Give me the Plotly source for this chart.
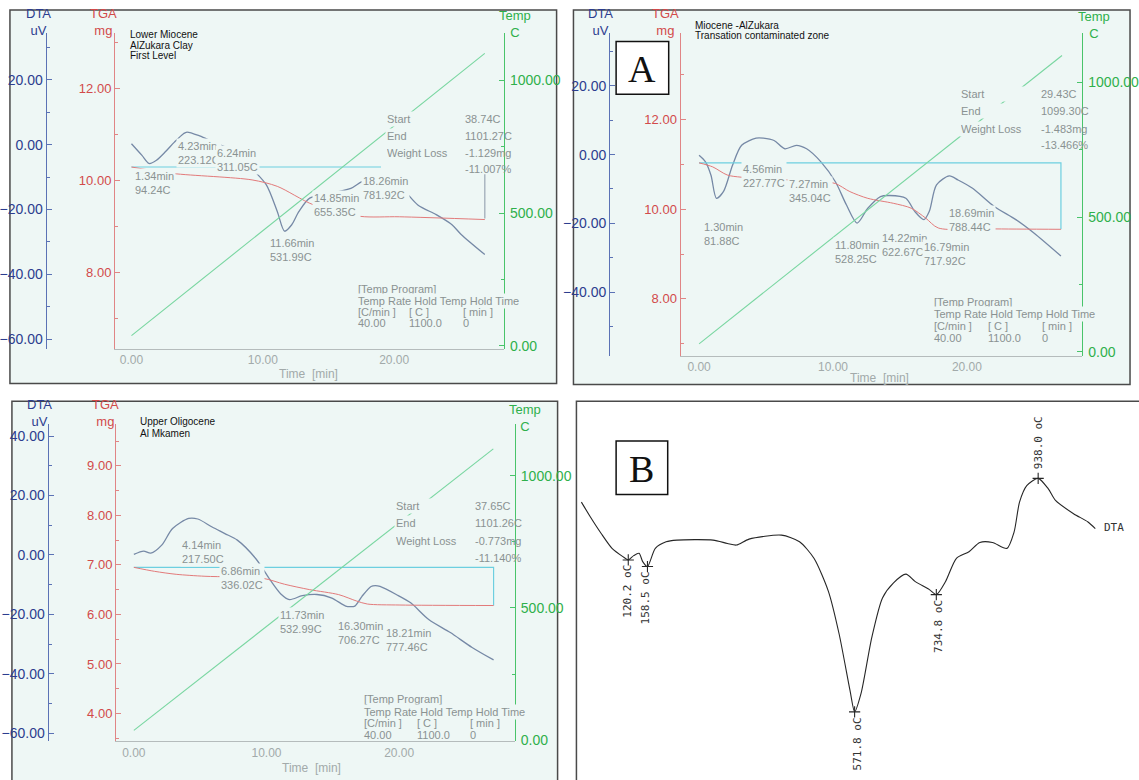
import plotly.graph_objects as go

W, H = 1139, 780

# ---------------- DATA ----------------
# Panel 1 - Lower Miocene / AlZukara Clay / First Level
p1_dta_time = [0.0, 0.8, 1.34, 1.9, 2.58, 3.27, 3.96, 4.23, 5.19, 6.24, 8.1, 9.31, 10.27, 11.1, 11.66,
               12.2, 12.75, 13.57, 14.85, 16.7, 17.55, 18.26, 19.34, 20.44, 21.8, 23.2, 24.4, 25.1, 26.9]
p1_dta_uv = [0.3, -3.3, -5.8, -4.8, -2.2, 0.8, 3.4, 3.9, 2.7, 0.8, -2.5, -7.9, -12.4, -20.6, -26.7,
             -24.7, -20.6, -16.5, -15.3, -13.5, -11.4, -10.9, -11.2, -12.9, -18.6, -21.6, -24.7, -27.7, -33.9]
p1_tga_time = [0.0, 3.13, 9.18, 11.1, 13.85, 17.4, 20.4, 26.9]
p1_tga_mg = [10.29, 10.15, 10.01, 9.87, 9.47, 9.22, 9.21, 9.15]
p1_temp_time = [0.0, 26.9]
p1_temp_c = [38.74, 1101.27]
p1_base_time = [0.0, 19.0]
p1_base_mg = [10.29, 10.29]
p1_drop_time = [26.9, 26.9]
p1_drop_mg = [10.13, 9.17]
p1_peak_text = ["1.34min<br>94.24C", "4.23min<br>223.12C", "6.24min<br>311.05C",
                "11.66min<br>531.99C", "14.85min<br>655.35C", "18.26min<br>781.92C"]
p1_stats_values = ["38.74C", "1101.27C", "-1.129mg", "-11.007%"]
p1_title_lines = ["Lower Miocene", "AlZukara Clay", "First Level"]
p1_dta_ticks = [-60, -40, -20, 0, 20]
p1_tga_ticks = [8, 10, 12]

# Panel 2 - Miocene -AlZukara / Transation contaminated zone
p2_dta_time = [0.0, 0.48, 0.89, 1.30, 1.83, 2.5, 3.18, 4.26, 4.8, 5.6, 6.41, 7.27, 8.03, 9.1, 10.18, 11.0,
               11.80, 12.6, 13.55, 14.22, 15.44, 16.1, 16.79, 17.19, 17.73, 18.69, 19.34, 20.42, 22.04,
               23.65, 25.0, 27.02]
p2_dta_uv = [-0.2, -2.1, -6.0, -12.7, -10.7, -3.1, 2.7, 4.8, 4.8, 4.1, 1.7, 2.7, 1.7, -2.1, -7.9, -14.6,
             -19.9, -15.6, -12.2, -11.9, -12.7, -16.5, -18.9, -16.5, -8.8, -6.2, -7.4, -9.8, -15.1,
             -18.9, -22.8, -29.5]
p2_tga_time = [0.0, 1.02, 2.1, 3.18, 9.1, 10.18, 11.26, 12.6, 14.5, 15.84, 16.92, 17.86, 21.77, 27.02]
p2_tga_mg = [11.03, 10.94, 10.76, 10.71, 10.61, 10.57, 10.39, 10.24, 10.13, 10.02, 9.80, 9.58, 9.56, 9.55]
p2_temp_time = [0.0, 27.1]
p2_temp_c = [29.43, 1099.30]
p2_base_time = [0.0, 27.02, 27.02]
p2_base_mg = [11.03, 11.03, 9.55]
p2_peak_text = ["1.30min<br>81.88C", "4.56min<br>227.77C", "7.27min<br>345.04C", "11.80min<br>528.25C",
                "14.22min<br>622.67C", "16.79min<br>717.92C", "18.69min<br>788.44C"]
p2_stats_values = ["29.43C", "1099.30C", "-1.483mg", "-13.466%"]
p2_title_lines = ["Miocene -AlZukara", "Transation contaminated zone"]
p2_dta_ticks = [-40, -20, 0, 20]
p2_tga_ticks = [8, 10, 12]

# Panel 3 - Upper Oligocene / Al Mkamen
p3_dta_time = [0.0, 0.74, 1.28, 2.1, 2.92, 4.14, 4.82, 5.9, 6.86, 7.8, 9.17, 10.26, 11.08, 11.73, 12.7,
               13.8, 14.88, 15.97, 16.30, 16.66, 17.2, 17.88, 18.21, 18.56, 19.78, 20.87, 22.23, 23.86,
               25.5, 27.12]
p3_dta_uv = [0.2, 1.3, 0.6, 3.3, 8.9, 12.3, 12.1, 9.4, 7.2, 5.0, -1.1, -8.3, -13.1, -15.0, -13.7,
             -13.3, -14.4, -17.2, -17.4, -17.2, -13.9, -10.6, -10.3, -10.6, -13.3, -16.1, -21.7, -26.1,
             -31.1, -35.3]
p3_tga_time = [0.0, 1.56, 3.19, 5.36, 9.71, 11.35, 13.26, 15.44, 16.8, 17.6, 20.06, 27.12]
p3_tga_mg = [6.95, 6.87, 6.81, 6.77, 6.73, 6.61, 6.50, 6.40, 6.27, 6.21, 6.19, 6.18]
p3_temp_time = [0.0, 27.1]
p3_temp_c = [37.65, 1101.26]
p3_base_time = [0.0, 27.12, 27.12]
p3_base_mg = [6.95, 6.95, 6.18]
p3_peak_text = ["4.14min<br>217.50C", "6.86min<br>336.02C", "11.73min<br>532.99C",
                "16.30min<br>706.27C", "18.21min<br>777.46C"]
p3_stats_values = ["37.65C", "1101.26C", "-0.773mg", "-11.140%"]
p3_title_lines = ["Upper Oligocene", "Al Mkamen"]
p3_dta_ticks = [-60, -40, -20, 0, 20, 40]
p3_tga_ticks = [4, 5, 6, 7, 8, 9]

# Shared texts / ticks
time_ticks = [0, 10, 20]
temp_ticks = [0, 500, 1000]
stats_labels = ["Start", "End", "Weight Loss"]
prog_rows = ["[Temp Program]", "Temp Rate Hold Temp Hold Time"]
prog_units = ["[C/min ]", "[ C ]", "[ min ]"]
prog_values = ["40.00", "1100.0", "0"]

# Panel B - DTA trace vs temperature (oC)
b_temp = [26.7, 44.7, 66.2, 87.8, 109.4, 120.2, 131, 141.8, 149, 158.5, 174.2, 195.7, 217.3, 289.3, 318,
          336, 361.2, 426, 461.9, 490.7, 519.5, 541, 562.6, 571.8, 584.5, 606, 627.4, 649, 674.2, 692.2,
          721, 734.8, 753.3, 774.9, 800, 821.6, 846.8, 875.6, 890, 900.8, 915.2, 938.0, 958.3, 972.6,
          1008.6, 1037.4, 1052]
b_dta = [25, 20.5, 15.5, 11, 8.5, 7.5, 8.8, 9.5, 7.0, 5.5, 11, 13, 13.5, 13.5, 12.5,
         12, 13.8, 15, 13, 8, -2, -15, -32, -38.5, -33, -16, -4, 0.5, 3.2, 1,
         -1.5, -3, 1, 8, 10, 12.8, 12.8, 11, 16, 25, 30, 32.2, 29, 25.5,
         21.5, 19, 17]
b_peak_temp = [120.2, 158.5, 571.8, 734.8, 938.0]
b_peak_dta = [7.5, 5.5, -38.5, -3.0, 32.2]
b_peak_text = ["120.2 oC", "158.5 oC", "571.8 oC", "734.8 oC", "938.0 oC"]

# ---------------- STYLE ----------------
FONT = "Arial, Liberation Sans, sans-serif"
NARROW = "Liberation Sans Narrow, Arial Narrow, Liberation Sans, sans-serif"
SERIF = "Liberation Serif, Times New Roman, serif"
MONO = "DejaVu Sans Mono, Liberation Mono, monospace"
PANEL_BG = "#eef7f5"
BORDER = "#4a4a4a"
DTA_LINE, DTA_AX, DTA_TXT = "#7689a6", "#5b72b5", "#2c3d8f"
TGA_LINE, TGA_AX, TGA_TXT = "#e27a7a", "#e08585", "#d24a4a"
TMP_LINE, TMP_AX, TMP_TXT = "#78d6a0", "#49c46a", "#2fb04b"
CYAN = "#6dcfe0"
GRAY = "#8a9292"
XAX = "#b5bcbc"

def px(x):
    return x / W

def py(y):
    return 1 - y / H

annotations = []
shapes = []
layout_axes = {}
fig = go.Figure()

def note(text, x, y, size=11, color=GRAY, xanchor="left", yanchor="middle", bg=None,
         family=FONT, angle=0, width=None, align="left"):
    a = dict(text=text, x=px(x), y=py(y), xref="paper", yref="paper", showarrow=False,
             xanchor=xanchor, yanchor=yanchor, align=align, textangle=angle,
             font=dict(family=family, size=size, color=color), borderpad=1)
    if bg:
        a["bgcolor"] = bg
    if width:
        a["width"] = width
    annotations.append(a)

def vrange(ref, ppu, top, bot):
    v0, p0 = ref
    return [v0 + (p0 - bot) / ppu, v0 + (p0 - top) / ppu]

def yname(n):
    return "yaxis" if n == 1 else f"yaxis{n}"

def yref(n):
    return "y" if n == 1 else f"y{n}"

panels = [
    dict(k=1, box=(7, 10, 558, 387), xdom=(112, 505), ydom=(33, 352), t0=129.5, ppm=13.24,
         dta=((0, 146), 3.27), tga=((10, 182), 46.5), tmp=((0, 349), 0.268), pos=(43, 112, 505),
         dta_t=p1_dta_ticks, tga_t=p1_tga_ticks, tga_minor=1,
         dta_x=p1_dta_time, dta_y=p1_dta_uv, tga_x=p1_tga_time, tga_y=p1_tga_mg,
         tmp_x=p1_temp_time, tmp_y=p1_temp_c, base=[(p1_base_time, p1_base_mg, CYAN),
                                                     (p1_drop_time, p1_drop_mg, "#9aa6b4")],
         peaks=p1_peak_text,
         peak_pos=[(131, 184.5), (174, 154), (214, 161), (267, 252.5), (311, 207), (361, 190)],
         stats=p1_stats_values, stats_x=(385.5, 463.6), stats_y=(120, 137, 154, 171),
         prog_x=(356, 407, 462), prog_y=(292, 304, 315, 326),
         title=p1_title_lines, title_pos=(126, 35, 10.5),
         ax_titles=[("DTA<br>uV", 36, 22, DTA_TXT), ("TGA<br>mg", 101, 22, TGA_TXT),
                    ("Temp<br>C", 516, 24, TMP_TXT)],
         time_pos=(308, 377)),
    dict(k=2, box=(575, 10, 1136, 388), xdom=(682, 1088), ydom=(33, 359), t0=701.6, ppm=13.5,
         dta=((0, 156), 3.47), tga=((10, 211), 45.3), tmp=((0, 355), 0.272), pos=(611, 682, 1088),
         dta_t=p2_dta_ticks, tga_t=p2_tga_ticks, tga_minor=1,
         dta_x=p2_dta_time, dta_y=p2_dta_uv, tga_x=p2_tga_time, tga_y=p2_tga_mg,
         tmp_x=p2_temp_time, tmp_y=p2_temp_c, base=[(p2_base_time, p2_base_mg, CYAN)],
         peaks=p2_peak_text,
         peak_pos=[(705, 236.5), (744, 178), (790, 192.5), (837, 254.5), (884, 247.5), (926, 256.5),
                   (952, 221.5)],
         stats=p2_stats_values, stats_x=(963.5, 1044), stats_y=(95, 112, 130, 146),
         prog_x=(936.5, 991, 1045.6), prog_y=(305, 317, 329, 341),
         title=p2_title_lines, title_pos=(695, 26, 10),
         ax_titles=[("DTA<br>uV", 602, 22, DTA_TXT), ("TGA<br>mg", 668, 22, TGA_TXT),
                    ("Temp<br>C", 1100, 25, TMP_TXT)],
         time_pos=(883.5, 381)),
    dict(k=3, box=(9, 405, 559, 800), xdom=(113, 516), ydom=(428, 748), t0=131.9, ppm=13.37,
         dta=((0, 560), 3.0), tga=((7, 570), 50.0), tmp=((0, 747), 0.267), pos=(45, 113, 516),
         dta_t=p3_dta_ticks, tga_t=p3_tga_ticks, tga_minor=0.5,
         dta_x=p3_dta_time, dta_y=p3_dta_uv, tga_x=p3_tga_time, tga_y=p3_tga_mg,
         tmp_x=p3_temp_time, tmp_y=p3_temp_c, base=[(p3_base_time, p3_base_mg, CYAN)],
         peaks=p3_peak_text,
         peak_pos=[(178, 556.5), (218, 583.5), (277, 627.5), (336, 639), (384, 646)],
         stats=p3_stats_values, stats_x=(394.5, 474), stats_y=(511, 528, 546, 563),
         prog_x=(362, 415, 469), prog_y=(705, 718, 730, 742),
         title=p3_title_lines, title_pos=(136, 425, 12),
         ax_titles=[("DTA<br>uV", 37, 417, DTA_TXT), ("TGA<br>mg", 103, 417, TGA_TXT),
                    ("Temp<br>C", 526, 422, TMP_TXT)],
         time_pos=(311, 775)),
]

for P in panels:
    k = P["k"]
    b = 3 * (k - 1) + 1
    xa = "xaxis" if k == 1 else f"xaxis{k}"
    xr = "x" if k == 1 else f"x{k}"
    x0, y0, x1, y1 = P["box"]
    shapes.append(dict(type="rect", xref="paper", yref="paper", x0=px(x0), x1=px(x1), y0=py(y1), y1=py(y0),
                       fillcolor=PANEL_BG, line=dict(color=BORDER, width=1.5), layer="below"))
    xd0, xd1 = P["xdom"]
    top, bot = P["ydom"]
    xrng = [(xd0 - P["t0"]) / P["ppm"], (xd1 - P["t0"]) / P["ppm"]]
    ydom = [py(bot), py(top)]
    layout_axes[xa] = dict(domain=[px(xd0), px(xd1)], range=xrng, anchor=yref(b), showline=True,
                           linecolor=XAX, linewidth=1, tickvals=time_ticks, tickformat=".2f", ticks="",
                           tickfont=dict(family=FONT, size=12, color="#a2aaaa"), showgrid=False,
                           zeroline=False, fixedrange=True)
    common = dict(showgrid=False, zeroline=False, fixedrange=True, tickformat=".2f", anchor="free",
                  ticks="inside", ticklen=5, tickwidth=1)
    layout_axes[yname(b)] = dict(domain=ydom, range=vrange(*P["dta"], top, bot), position=px(P["pos"][0]),
                                 side="left", showline=True, linecolor=DTA_AX, linewidth=1.2,
                                 tickcolor=DTA_AX, tickvals=P["dta_t"],
                                 tickfont=dict(family=FONT, size=14, color=DTA_TXT),
                                 minor=dict(tickmode="linear", tick0=0, dtick=10, ticks="inside",
                                            ticklen=3, tickcolor=DTA_AX), **common)
    layout_axes[yname(b + 1)] = dict(overlaying=yref(b), range=vrange(*P["tga"], top, bot),
                                     position=px(P["pos"][1]), side="left", showline=True,
                                     linecolor=TGA_AX, linewidth=1.2, tickcolor=TGA_AX,
                                     tickvals=P["tga_t"],
                                     tickfont=dict(family=FONT, size=13, color=TGA_TXT),
                                     minor=dict(tickmode="linear", tick0=0, dtick=P["tga_minor"],
                                                ticks="inside", ticklen=3, tickcolor=TGA_AX), **common)
    layout_axes[yname(b + 2)] = dict(overlaying=yref(b), range=vrange(*P["tmp"], top, bot),
                                     position=px(P["pos"][2]), side="right", showline=True,
                                     linecolor=TMP_AX, linewidth=1.2, tickcolor=TMP_AX,
                                     tickvals=temp_ticks, ticklabelstandoff=2,
                                     tickfont=dict(family=FONT, size=14, color=TMP_TXT),
                                     minor=dict(tickmode="linear", tick0=0, dtick=250, ticks="inside",
                                                ticklen=3, tickcolor=TMP_AX), **common)
    # traces
    fig.add_trace(go.Scatter(x=P["dta_x"], y=P["dta_y"], xaxis=xr, yaxis=yref(b), mode="lines",
                             line=dict(color=DTA_LINE, width=1.3, shape="spline", smoothing=0.8),
                             hoverinfo="skip"))
    fig.add_trace(go.Scatter(x=P["tmp_x"], y=P["tmp_y"], xaxis=xr, yaxis=yref(b + 2), mode="lines",
                             line=dict(color=TMP_LINE, width=1.1), hoverinfo="skip"))
    for bx, by, bc in P["base"]:
        fig.add_trace(go.Scatter(x=bx, y=by, xaxis=xr, yaxis=yref(b + 1), mode="lines",
                                 line=dict(color=bc, width=1.2), hoverinfo="skip"))
    fig.add_trace(go.Scatter(x=P["tga_x"], y=P["tga_y"], xaxis=xr, yaxis=yref(b + 1), mode="lines",
                             line=dict(color=TGA_LINE, width=1.0, shape="spline", smoothing=0.8),
                             hoverinfo="skip"))
    # texts
    for t, (lx, ly) in zip(P["peaks"], P["peak_pos"]):
        note(t, lx, ly, size=11, bg=PANEL_BG)
    sx0, sx1 = P["stats_x"]
    for t, yy in zip(stats_labels, P["stats_y"]):
        note(t, sx0, yy, size=11, bg=PANEL_BG, width=74)
    for t, yy in zip(P["stats"], P["stats_y"]):
        note(t, sx1, yy, size=11)
    cx = P["prog_x"]
    cy = P["prog_y"]
    note(prog_rows[0], cx[0], cy[0], size=11)
    note(prog_rows[1], cx[0], cy[1], size=11, bg=PANEL_BG)
    for t, xx in zip(prog_units, cx):
        note(t, xx, cy[2], size=11)
    for t, xx in zip(prog_values, cx):
        note(t, xx, cy[3], size=11)
    tx, ty, tsp = P["title_pos"]
    for i, t in enumerate(P["title"]):
        note(t, tx, ty + i * tsp, size=10, color="#111111", family=NARROW)
    for t, ax_x, ax_y, col in P["ax_titles"]:
        note(t, ax_x, ax_y, size=13, color=col, xanchor="center", align="center")
    note("Time  [min]", P["time_pos"][0], P["time_pos"][1], size=12, color="#a2aaaa", xanchor="center")

# ---------------- Panel B ----------------
shapes.append(dict(type="rect", xref="paper", yref="paper", x0=px(578), x1=px(1150), y0=py(800), y1=py(405),
                   fillcolor="white", line=dict(color=BORDER, width=1.5), layer="below"))
layout_axes["xaxis4"] = dict(domain=[px(578), 1.0], range=[16.8, 1127.2], anchor="y10", visible=False,
                             fixedrange=True)
layout_axes["yaxis10"] = dict(domain=[0.0, py(405)], range=[-57, 55.5], anchor="x4", visible=False,
                              fixedrange=True)
fig.add_trace(go.Scatter(x=b_temp, y=b_dta, xaxis="x4", yaxis="y10", mode="lines",
                         line=dict(color="#262626", width=1.1, shape="spline", smoothing=0.7),
                         hoverinfo="skip"))
fig.add_trace(go.Scatter(x=b_peak_temp, y=b_peak_dta, xaxis="x4", yaxis="y10", mode="markers",
                         marker=dict(symbol="cross-thin", size=8, line=dict(color="#262626", width=1.1)),
                         hoverinfo="skip"))
b_label_pos = [(630, 597), (648, 603), (861, 751), (943, 632), (1044.5, 447)]
for t, (lx, ly) in zip(b_peak_text, b_label_pos):
    note(t, lx, ly, size=11, color="#333333", family=MONO, xanchor="center", yanchor="middle", angle=-90)
note("DTA", 1107.5, 532, size=11, color="#333333", family=MONO)

# ---------------- A / B boxes ----------------
for lab, (bx0, by0, bx1, by1) in zip(["A", "B"], [(618, 42, 671, 95), (618, 445, 670, 499)]):
    shapes.append(dict(type="rect", xref="paper", yref="paper", x0=px(bx0), x1=px(bx1), y0=py(by1),
                       y1=py(by0), fillcolor="white", line=dict(color="#111111", width=1.5), layer="above"))
    note(lab, (bx0 + bx1) / 2, (by0 + by1) / 2 + 1, size=38, color="#111111", family=SERIF,
         xanchor="center")

fig.update_layout(width=W, height=H, margin=dict(l=0, r=0, t=0, b=0), paper_bgcolor="white",
                  plot_bgcolor="rgba(0,0,0,0)", showlegend=False, annotations=annotations, shapes=shapes,
                  **layout_axes)

fig.write_html("out.html", config={"displayModeBar": False},
               post_script="document.body.style.margin='0';")
